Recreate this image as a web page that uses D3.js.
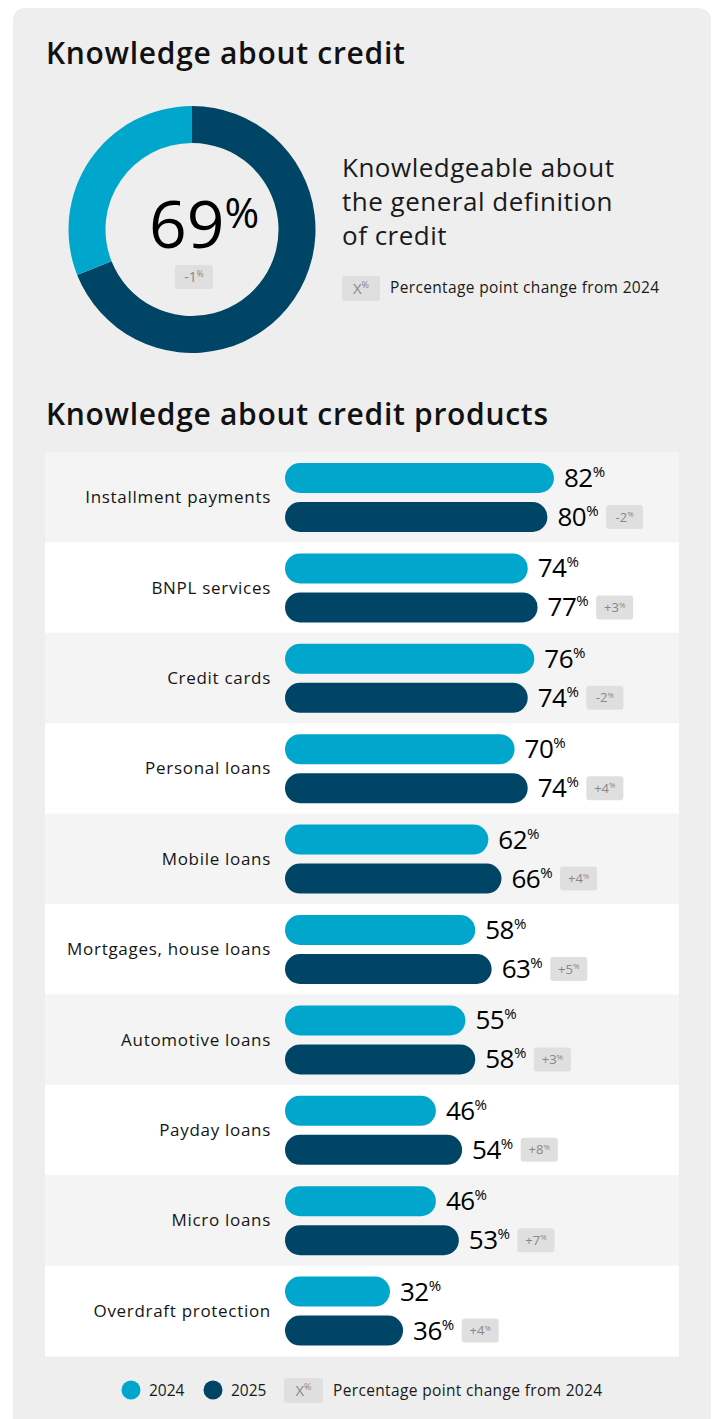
<!DOCTYPE html>
<html>
<head>
<meta charset="utf-8">
<script src="https://cdn.jsdelivr.net/npm/d3@7"></script>
<style>
  html, body { margin: 0; padding: 0; background: #ffffff; }
  svg { display: block; }
  text { font-family: "Open Sans", "Noto Sans", sans-serif; }
</style>
</head>
<body>
<div id="chart"></div>
<script>
// ---- data ----
const generalShare = 69;          // knowledgeable about the general definition of credit
const generalChange = "-1";       // point change from 2024

const categories = [
  "Installment payments", "BNPL services", "Credit cards", "Personal loans",
  "Mobile loans", "Mortgages, house loans", "Automotive loans", "Payday loans",
  "Micro loans", "Overdraft protection"
];
const values2024 = [82, 74, 76, 70, 62, 58, 55, 46, 46, 32];
const values2025 = [80, 77, 74, 74, 66, 63, 58, 54, 53, 36];
const changes    = ["-2", "+3", "-2", "+4", "+4", "+5", "+3", "+8", "+7", "+4"];
const seriesNames = ["2024", "2025"];

// ---- styles ----
const W = 718, H = 1419;
const C_LIGHT = "#00a6cb";
const C_DARK = "#014566";
const C_BADGE = "#dfdfdf";
const C_BADGE_TXT = "#878787";

const svg = d3.select("#chart").append("svg")
  .attr("width", W).attr("height", H);

// card background
svg.append("rect")
  .attr("x", 13).attr("y", 8).attr("width", 698).attr("height", 1430)
  .attr("rx", 12).attr("fill", "#eeeeee");

// ---- titles ----
svg.append("text").attr("x", 46).attr("y", 64)
  .attr("font-size", 30).attr("font-weight", 600).attr("fill", "#111")
  .attr("letter-spacing", 0.7)
  .text("Knowledge about credit");

svg.append("text").attr("x", 46).attr("y", 425)
  .attr("font-size", 30).attr("font-weight", 600).attr("fill", "#111")
  .attr("letter-spacing", 0.7)
  .text("Knowledge about credit products");

// badge helper: grey box with "N%" in small grey type
function badge(g, x, y, w, h, label, size) {
  g.append("rect").attr("x", x).attr("y", y).attr("width", w).attr("height", h)
    .attr("rx", 3).attr("fill", C_BADGE);
  const t = g.append("text")
    .attr("x", x + w / 2).attr("y", y + h / 2 + size * 0.36)
    .attr("text-anchor", "middle").attr("fill", C_BADGE_TXT)
    .attr("font-size", size);
  t.append("tspan").text(label);
  t.append("tspan").attr("font-size", size * 0.6).attr("dy", -size * 0.35).text("%");
}

// ---- donut ----
const cx = 192, cy = 229.5;
const donut = svg.append("g").attr("transform", `translate(${cx},${cy})`);
const pie = d3.pie().sort(null).value(d => d.v);
const arc = d3.arc().innerRadius(86.5).outerRadius(123.5);
const slices = pie([{ v: generalShare, c: C_DARK }, { v: 100 - generalShare, c: C_LIGHT }]);
donut.selectAll("path").data(slices).join("path")
  .attr("d", arc).attr("fill", d => d.data.c);

const big = donut.append("text").attr("x", 12).attr("y", 18.5)
  .attr("text-anchor", "middle").attr("fill", "#000")
  .attr("font-size", 66).attr("font-weight", 400);
big.append("tspan").text(generalShare);
big.append("tspan").attr("font-size", 42).attr("dy", -20).text("%");

badge(svg, 175, 265, 38, 24, generalChange, 14);

// description beside donut
const desc = ["Knowledgeable about", "the general definition", "of credit"];
svg.append("g").selectAll("text").data(desc).join("text")
  .attr("x", 342).attr("y", (d, i) => 177 + i * 34)
  .attr("font-size", 26).attr("fill", "#1a1a1a").attr("letter-spacing", 0.5)
  .text(d => d);

const legTop = svg.append("g");
legTop.append("rect").attr("x", 342).attr("y", 276).attr("width", 38).attr("height", 25)
  .attr("rx", 3).attr("fill", C_BADGE);
const xt = legTop.append("text").attr("x", 361).attr("y", 294)
  .attr("text-anchor", "middle").attr("fill", C_BADGE_TXT).attr("font-size", 15);
xt.append("tspan").text("X");
xt.append("tspan").attr("font-size", 9).attr("dy", -6).text("%");
legTop.append("text").attr("x", 390).attr("y", 293)
  .attr("font-size", 15.5).attr("fill", "#1a1a1a").attr("letter-spacing", 0.35)
  .text("Percentage point change from 2024");

// ---- bar rows ----
const panelX = 45, panelW = 634, panelTop = 452, rowH = 90.4;
const x = d3.scaleLinear().domain([0, 100]).range([285, 613]);
const barH = 30;

const rows = svg.append("g").selectAll("g").data(categories).join("g")
  .attr("transform", (d, i) => `translate(0,${panelTop + i * rowH})`);

rows.append("rect")
  .attr("x", panelX).attr("width", panelW).attr("height", rowH + 0.5)
  .attr("fill", (d, i) => i % 2 === 0 ? "#f4f4f4" : "#ffffff");

rows.append("text")
  .attr("x", 271).attr("y", rowH / 2 + 6)
  .attr("text-anchor", "end").attr("font-size", 17).attr("fill", "#151515")
  .attr("letter-spacing", 0.7)
  .text(d => d);

rows.each(function (cat, i) {
  const g = d3.select(this);
  const vals = [values2024[i], values2025[i]];
  const ys = [11, 50];
  const cols = [C_LIGHT, C_DARK];
  vals.forEach((v, k) => {
    g.append("rect")
      .attr("x", x(0)).attr("y", ys[k])
      .attr("width", x(v) - x(0)).attr("height", barH)
      .attr("rx", barH / 2).attr("fill", cols[k]);
    const t = g.append("text")
      .attr("x", x(v) + 10).attr("y", ys[k] + barH / 2 + 9)
      .attr("font-size", 26).attr("fill", "#000").attr("letter-spacing", -0.5);
    t.append("tspan").text(v);
    t.append("tspan").attr("font-size", 15).attr("dy", -10).text("%");
    if (k === 1) {
      const tw = t.node().getComputedTextLength();
      badge(g, x(v) + 10 + tw + 8, ys[k] + 3, 37, 24, changes[i], 13);
    }
  });
});

// ---- legend ----
const leg = svg.append("g").attr("transform", "translate(0,1390)");
const legItems = [
  { name: seriesNames[0], c: C_LIGHT, cx: 131 },
  { name: seriesNames[1], c: C_DARK, cx: 213 }
];
legItems.forEach(it => {
  leg.append("circle").attr("cx", it.cx).attr("cy", 0).attr("r", 9.5).attr("fill", it.c);
  leg.append("text").attr("x", it.cx + 18).attr("y", 6)
    .attr("font-size", 15.5).attr("fill", "#1a1a1a").text(it.name);
});
leg.append("rect").attr("x", 284).attr("y", -12).attr("width", 39).attr("height", 25)
  .attr("rx", 3).attr("fill", C_BADGE);
const lx = leg.append("text").attr("x", 303.5).attr("y", 6)
  .attr("text-anchor", "middle").attr("fill", C_BADGE_TXT).attr("font-size", 15);
lx.append("tspan").text("X");
lx.append("tspan").attr("font-size", 9).attr("dy", -6).text("%");
leg.append("text").attr("x", 333).attr("y", 6)
  .attr("font-size", 15.5).attr("fill", "#1a1a1a").attr("letter-spacing", 0.35)
  .text("Percentage point change from 2024");
</script>
</body>
</html>
